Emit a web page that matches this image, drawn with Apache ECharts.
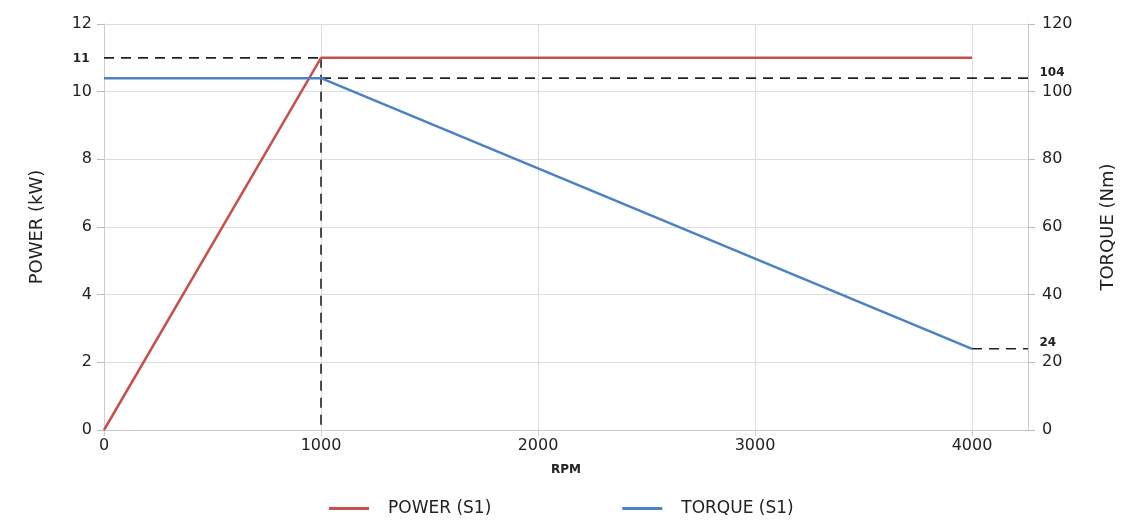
<!DOCTYPE html>
<html>
<head>
<meta charset="utf-8">
<script src="https://cdn.jsdelivr.net/npm/echarts@6/dist/echarts.min.js"></script>
<style>html,body{margin:0;padding:0;background:#fff}#c{width:1141px;height:520px}</style>
</head>
<body>
<div id="c"></div>
<script>
var rpm = [0, 1000, 4000];
var powerS1 = [0, 11, 11];
var torqueS1 = [104, 104, 24];
var xTicks = [0, 1000, 2000, 3000, 4000];
var xMax = 4258;
var refPowerLabel = '11';
var refTorqueHigh = 104;
var refTorqueLow = 24;
var refPower = 11;
var refRpm = 1000;

var FONT = 'DejaVu Sans';
var chart = echarts.init(document.getElementById('c'));
var dash = {color: '#222', width: 1.6, type: [10, 7]};
function pairs(xs, ys){ return xs.map(function(x,i){return [x, ys[i]];}); }
function refLabel(text, pos, dist, off){
  return {show: true, position: pos, distance: dist, formatter: text, fontSize: 12, fontWeight: 'bold', color: '#222', fontFamily: FONT, offset: off || [0,0]};
}
var refBase = {type: 'line', symbol: 'circle', symbolSize: 1, showSymbol: true, silent: true, z: 1,
  itemStyle: {color: 'rgba(0,0,0,0)'}, lineStyle: dash, clip: false};

chart.setOption({
  animation: false,
  textStyle: {fontFamily: FONT},
  grid: {left: 104, right: 113, top: 24, bottom: 90},
  legend: {
    data: ['POWER (S1)', 'TORQUE (S1)'],
    bottom: -2, left: 324,
    itemWidth: 40, itemHeight: 3, itemGap: 131,
    icon: 'rect',
    textStyle: {fontSize: 17, color: '#222', fontFamily: FONT, padding: [0,0,0,14]}
  },
  xAxis: {
    type: 'value', min: 0, max: xMax, interval: 1000,
    name: 'RPM', nameLocation: 'middle', nameGap: 34,
    nameTextStyle: {fontSize: 12, fontWeight: 'bold', color: '#222'},
    axisLine: {lineStyle: {color: '#ccc'}},
    axisTick: {show: true, length: 6, lineStyle: {color: '#ccc'}},
    axisLabel: {fontSize: 16, color: '#222', margin: 8, showMaxLabel: false,
      formatter: function(v){ return xTicks.indexOf(v) >= 0 ? String(v) : ''; }},
    splitLine: {show: true, lineStyle: {color: '#ddd'}}
  },
  yAxis: [{
    type: 'value', min: 0, max: 12, interval: 2,
    name: 'POWER (kW)', nameLocation: 'middle', nameGap: 58,
    nameTextStyle: {fontSize: 18, color: '#222'},
    axisLine: {show: true, lineStyle: {color: '#ccc'}},
    axisTick: {show: true, length: 7, lineStyle: {color: '#bbb'}},
    axisLabel: {fontSize: 16, color: '#222', margin: 12},
    splitLine: {show: true, lineStyle: {color: '#ddd'}}
  }, {
    type: 'value', min: 0, max: 120, interval: 20,
    name: 'TORQUE (Nm)', nameLocation: 'middle', nameGap: 71,
    nameTextStyle: {fontSize: 18, color: '#222'},
    axisLine: {show: true, lineStyle: {color: '#ccc'}},
    axisTick: {show: true, length: 7, lineStyle: {color: '#bbb'}},
    axisLabel: {fontSize: 16, color: '#222', margin: 14},
    splitLine: {show: false}
  }],
  series: [
    Object.assign({}, refBase, {
      name: 'ref-power', yAxisIndex: 0,
      data: [
        {value: [0, refPower], label: refLabel(refPowerLabel, 'left', 14, [0, 1])},
        [refRpm, refPower]
      ]
    }),
    Object.assign({}, refBase, {
      name: 'ref-rpm', yAxisIndex: 0,
      data: [[refRpm, refPower], [refRpm, 0]]
    }),
    Object.assign({}, refBase, {
      name: 'ref-torque-high', yAxisIndex: 1,
      data: [[refRpm, refTorqueHigh],
        {value: [xMax, refTorqueHigh], label: refLabel(String(refTorqueHigh), 'right', 11, [0, -5])}]
    }),
    Object.assign({}, refBase, {
      name: 'ref-torque-low', yAxisIndex: 1,
      data: [[rpm[2], refTorqueLow],
        {value: [xMax, refTorqueLow], label: refLabel(String(refTorqueLow), 'right', 11, [0, -6])}]
    }),
    {
      name: 'POWER (S1)', type: 'line', yAxisIndex: 0, symbol: 'none', z: 3,
      color: '#c8504c', lineStyle: {width: 2.5, color: '#c8504c'},
      data: pairs(rpm, powerS1)
    },
    {
      name: 'TORQUE (S1)', type: 'line', yAxisIndex: 1, symbol: 'none', z: 3,
      color: '#4a82c4', lineStyle: {width: 2.5, color: '#4a82c4'},
      data: pairs(rpm, torqueS1)
    }
  ]
});
</script>
</body>
</html>
